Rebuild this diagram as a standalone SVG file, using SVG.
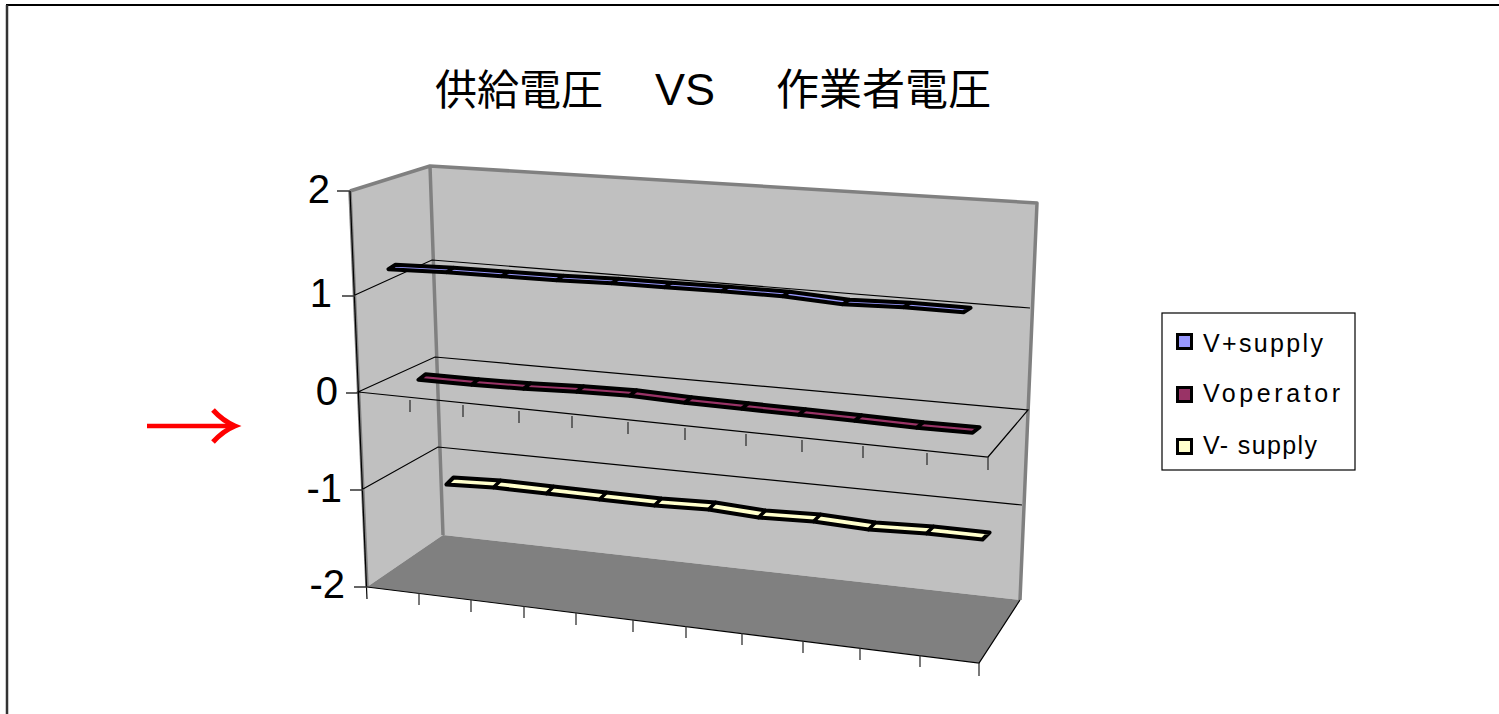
<svg xmlns="http://www.w3.org/2000/svg" width="1499" height="714" viewBox="0 0 1499 714">
<style>
.edge{fill:none;stroke:#808080;stroke-width:3.5;stroke-linejoin:round}
.thin{fill:none;stroke:#000;stroke-width:1.2}
.tick{fill:none;stroke:#333;stroke-width:1.3}
.lbl{font-family:"Liberation Sans",Arial,sans-serif;font-size:40px;fill:#000;text-anchor:end}
.leg{font-family:"Liberation Sans",Arial,sans-serif;font-size:25px;fill:#000}
.rib{stroke:#000;stroke-width:4;stroke-linejoin:round}
.sep{fill:none;stroke:#000;stroke-width:3.6;stroke-linecap:round}
</style>
<rect x="0" y="0" width="1499" height="714" fill="#fff"/>
<g id="frame">
<line x1="6" y1="5" x2="1499" y2="5" stroke="#000" stroke-width="2"/>
<line x1="7" y1="5" x2="7" y2="714" stroke="#333" stroke-width="2.5"/>
</g>
<g id="title">
<text y="105" font-family="'Liberation Sans','Noto Sans CJK JP',sans-serif" font-size="42" fill="#000"><tspan x="435">供給電圧</tspan><tspan x="655" font-size="45">VS</tspan><tspan x="776" font-size="43">作業者電圧</tspan></text>
</g>
<g id="walls">
<polygon id="left-wall" points="350,191 430,166 443,535 367,587" fill="#c0c0c0"/>
<polygon id="back-wall" points="430,166 1037,203 1020,600 443,535" fill="#c0c0c0"/>
<polygon id="floor" points="367,587 443,535 1020,600 979,663" fill="#808080"/>
<path class="edge" d="M350,191 L430,166 L1037,203 L1020,600 M430,166 L443,535"/>
<path class="edge" d="M350,191 L367,587" stroke-width="3"/>
</g>
<g id="gridlines">
<path class="thin" d="M355,295 L432,260 L1030,308"/>
<path class="thin" d="M358,392 L435,357 L1028,410 L988,457 Z"/>
<path class="thin" d="M363,489 L438,447 L1022,505"/>
<path class="thin" d="M367,587 L979,663 L1020,600"/>
</g>
<g id="axes">
<line x1="350" y1="191" x2="367" y2="599" stroke="#000" stroke-width="1.2"/>
<path class="tick" d="M337,191 H350 M342,296 H355 M346,393 H358 M350,490 H363 M354,587 H367"/>
<path class="tick" d="M410,400 v12 M463,405 v12 M519,411 v12 M572,416 v12 M628,422 v12 M685,428 v12 M746,434 v12 M802,440 v12 M863,446 v12 M927,453 v12 M988,457 v13"/>
<path class="tick" d="M419,593 v12 M471,600 v12 M524,606 v12 M576,613 v12 M633,620 v12 M686,626 v12 M742,633 v12 M803,641 v12 M860,648 v12 M920,655 v12 M979,663 v13"/>
<text class="lbl" x="330" y="203">2</text>
<text class="lbl" x="332" y="307">1</text>
<text class="lbl" x="338" y="405">0</text>
<text class="lbl" x="342" y="502">-1</text>
<text class="lbl" x="345" y="598">-2</text>
</g>
<g id="series-vplus">
<polygon class="rib" fill="#9999ff" points="388.5,269.25 446.5,272.25 501.5,276.25 556.5,280.25 611.5,283.25 664.5,287.25 721.5,291.25 782.5,296.25 842.5,304.25 903.5,307.25 963.5,312.25 970.5,307.75 910.5,302.75 849.5,299.75 789.5,291.75 728.5,286.75 671.5,282.75 618.5,278.75 563.5,275.75 508.5,271.75 453.5,267.75 395.5,264.75"/>
<path class="sep" d="M446.5,272.25 L453.5,267.75 M501.5,276.25 L508.5,271.75 M556.5,280.25 L563.5,275.75 M611.5,283.25 L618.5,278.75 M664.5,287.25 L671.5,282.75 M721.5,291.25 L728.5,286.75 M782.5,296.25 L789.5,291.75 M842.5,304.25 L849.5,299.75 M903.5,307.25 L910.5,302.75"/>
</g>
<g id="series-voperator">
<polygon class="rib" fill="#993366" points="418.5,379.75 471.5,384.75 523.5,388.75 576.5,391.75 629.5,395.75 684.5,402.75 741.5,408.75 798.5,414.75 854.5,420.75 916.5,427.75 972.5,432.75 979.5,427.25 923.5,422.25 861.5,415.25 805.5,409.25 748.5,403.25 691.5,397.25 636.5,390.25 583.5,386.25 530.5,383.25 478.5,379.25 425.5,374.25"/>
<path class="sep" d="M471.5,384.75 L478.5,379.25 M523.5,388.75 L530.5,383.25 M576.5,391.75 L583.5,386.25 M629.5,395.75 L636.5,390.25 M684.5,402.75 L691.5,397.25 M741.5,408.75 L748.5,403.25 M798.5,414.75 L805.5,409.25 M854.5,420.75 L861.5,415.25 M916.5,427.75 L923.5,422.25"/>
</g>
<g id="series-vminus">
<polygon class="rib" fill="#ffffcc" points="446.5,484.5 493.5,487.5 546.5,493.5 599.5,499.5 654.5,505.5 708.5,509.5 758.5,517.5 813.5,521.5 868.5,529.5 926.5,533.5 982.5,539.5 989.5,532.5 933.5,526.5 875.5,522.5 820.5,514.5 765.5,510.5 715.5,502.5 661.5,498.5 606.5,492.5 553.5,486.5 500.5,480.5 453.5,477.5"/>
<path class="sep" d="M493.5,487.5 L500.5,480.5 M546.5,493.5 L553.5,486.5 M599.5,499.5 L606.5,492.5 M654.5,505.5 L661.5,498.5 M708.5,509.5 L715.5,502.5 M758.5,517.5 L765.5,510.5 M813.5,521.5 L820.5,514.5 M868.5,529.5 L875.5,522.5 M926.5,533.5 L933.5,526.5"/>
</g>
<g id="legend">
<rect x="1162" y="313" width="193" height="157" fill="#fff" stroke="#000" stroke-width="1.2"/>
<rect x="1177.5" y="334.5" width="14" height="14" fill="#9999ff" stroke="#000" stroke-width="3"/>
<text class="leg" x="1203" y="352" textLength="120" lengthAdjust="spacing">V+supply</text>
<rect x="1177.5" y="387.5" width="14" height="14" fill="#993366" stroke="#000" stroke-width="3"/>
<text class="leg" x="1203" y="402" textLength="137" lengthAdjust="spacing">Voperator</text>
<rect x="1177.5" y="439.5" width="14" height="14" fill="#ffffcc" stroke="#000" stroke-width="3"/>
<text class="leg" x="1203" y="454" textLength="114" lengthAdjust="spacing">V- supply</text>
</g>
<g id="arrow">
<path d="M147,426 H230" stroke="#f00" stroke-width="4.5" fill="none"/>
<path d="M213,410 Q223,421 235,426 Q223,431 213,442" stroke="#f00" stroke-width="5" fill="none" stroke-linejoin="miter"/>
</g>
</svg>
